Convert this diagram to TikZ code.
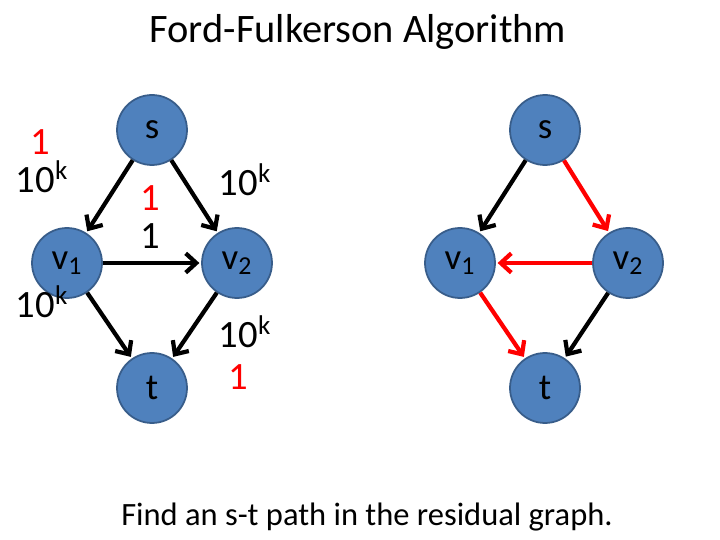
\documentclass[tikz,border=0pt]{standalone}
\usepackage{fontspec}
\setmainfont{Carlito}
\usetikzlibrary{arrows.meta}
\definecolor{nodeblue}{HTML}{4F81BD}
\definecolor{nodeedge}{HTML}{385D8A}
\begin{document}
\begin{tikzpicture}[x=0.02cm,y=-0.02cm,
  vtx/.style={circle,fill=nodeblue,draw=nodeedge,line width=1pt,minimum size=1.4cm,inner sep=0pt,font=\fontsize{21}{23}\selectfont},
  lab/.style={font=\fontsize{22}{24}\selectfont,inner sep=0pt},
  edge/.style={line width=2.4pt,-{Straight Barb[length=6pt,width=11pt]},shorten >=1pt},
  redge/.style={edge,red}]
\useasboundingbox (0,0) rectangle (720,540);
\node[font=\fontsize{23}{25}\selectfont] (title) at (358,32) {Ford-Fulkerson Algorithm};
% left graph
\node[vtx] (s) at (152,130) {s};
\node[vtx] (v1) at (67,263) {v\textsubscript{1}};
\node[vtx] (v2) at (237,263) {v\textsubscript{2}};
\node[vtx] (t) at (152,388) {t};
\draw[edge] (s) -- (v1);
\draw[edge] (s) -- (v2);
\draw[edge] (v1) -- (v2);
\draw[edge] (v1) -- (t);
\draw[edge] (v2) -- (t);
\node[lab,red] (a1) at (40,142) {1};
\node[lab] (a2) at (42,177) {10\textsuperscript{k}};
\node[lab,red] (b1) at (150,198) {1};
\node[lab] (b2) at (150,236) {1};
\node[lab] (c1) at (245,180) {10\textsuperscript{k}};
\node[lab] (d1) at (42,302) {10\textsuperscript{k}};
\node[lab] (e1) at (245,332) {10\textsuperscript{k}};
\node[lab,red] (e2) at (238,377) {1};
% right graph
\node[vtx] (rs) at (545,130) {s};
\node[vtx] (rv1) at (460,263) {v\textsubscript{1}};
\node[vtx] (rv2) at (628,263) {v\textsubscript{2}};
\node[vtx] (rt) at (545,388) {t};
\draw[edge] (rs) -- (rv1);
\draw[redge] (rs) -- (rv2);
\draw[redge] (rv2) -- (rv1);
\draw[redge] (rv1) -- (rt);
\draw[edge] (rv2) -- (rt);
\node[font=\fontsize{18.5}{20}\selectfont] (cap) at (367,517) {Find an s-t path in the residual graph.};
\end{tikzpicture}
\end{document}
